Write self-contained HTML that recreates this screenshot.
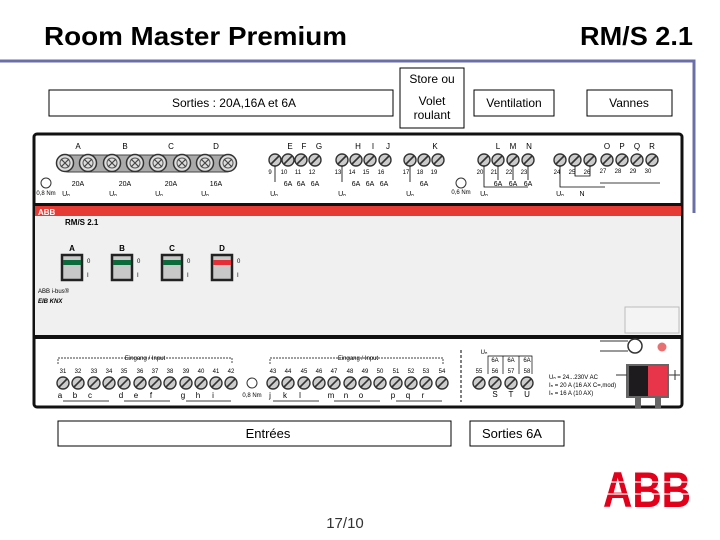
<!DOCTYPE html>
<html><head><meta charset="utf-8"><style>
html,body{margin:0;padding:0;background:#fff;}
svg{display:block;font-family:"Liberation Sans",sans-serif;}
</style></head><body>
<svg width="720" height="540" viewBox="0 0 720 540" xmlns="http://www.w3.org/2000/svg">
<defs>
<symbol id="s" viewBox="-7 -7 14 14" overflow="visible">
<circle r="6" fill="#ccc" stroke="#333" stroke-width="1.4"/>
<line x1="-4" y1="4" x2="4" y2="-4" stroke="#333" stroke-width="1.6"/>
</symbol>
<symbol id="b" viewBox="-10 -10 20 20" overflow="visible">
<circle r="8.5" fill="#ddd" stroke="#333" stroke-width="1.5"/>
<circle r="5" fill="none" stroke="#555" stroke-width="1"/>
<path d="M-4 -4L4 4M-4 4L4 -4" stroke="#444" stroke-width="1.2"/>
</symbol>
</defs>
<text x="44" y="45" font-size="26" font-weight="bold" fill="#000" textLength="303" lengthAdjust="spacingAndGlyphs">Room Master Premium</text>
<text x="580" y="45" font-size="26" font-weight="bold" fill="#000" textLength="113" lengthAdjust="spacingAndGlyphs">RM/S 2.1</text>
<polyline points="0,61 694,61 694,213" fill="none" stroke="#6b6fa8" stroke-width="3"/>

<g fill="#fff" stroke="#000" stroke-width="1">
<rect x="49" y="90" width="344" height="26"/>
<rect x="400" y="68" width="64" height="60"/>
<rect x="474" y="90" width="80" height="26"/>
<rect x="587" y="90" width="85" height="26"/>
</g>
<g font-size="12" text-anchor="middle" fill="#000">
<text x="234" y="107">Sorties : 20A,16A  et  6A</text>
<text x="432" y="83">Store ou</text>
<text x="432" y="105">Volet</text>
<text x="432" y="119">roulant</text>
<text x="514" y="107">Ventilation</text>
<text x="629" y="107">Vannes</text>
</g>

<rect x="34" y="134" width="648" height="273" fill="#fff" stroke="#111" stroke-width="3" rx="3"/>
<rect x="34" y="203" width="648" height="3" fill="#111"/>
<rect x="35" y="206" width="646" height="10" fill="#e63a35"/>
<text x="38" y="215" font-size="8" font-weight="bold" fill="#fff">ABB</text>
<rect x="35" y="216" width="646" height="119" fill="#f0f0f0"/>
<rect x="34" y="335" width="648" height="4" fill="#111"/>
<rect x="625" y="307" width="54" height="26" fill="#f4f4f4" stroke="#bbb"/>
<text x="65" y="225" font-size="8" font-weight="bold">RM/S 2.1</text>

<rect x="60" y="155" width="174" height="17" rx="8" fill="#aaa" stroke="#444"/>
<g>
<use href="#b" x="55" y="153" width="20" height="20"/><use href="#b" x="78" y="153" width="20" height="20"/><use href="#b" x="102" y="153" width="20" height="20"/><use href="#b" x="125" y="153" width="20" height="20"/>
<use href="#b" x="148" y="153" width="20" height="20"/><use href="#b" x="172" y="153" width="20" height="20"/><use href="#b" x="195" y="153" width="20" height="20"/><use href="#b" x="218" y="153" width="20" height="20"/>
</g>
<g font-size="8" text-anchor="middle">
<text x="78" y="149">A</text><text x="125" y="149">B</text><text x="171" y="149">C</text><text x="216" y="149">D</text>
<text x="290" y="149">E</text><text x="304" y="149">F</text><text x="319" y="149">G</text>
<text x="358" y="149">H</text><text x="373" y="149">I</text><text x="388" y="149">J</text>
<text x="435" y="149">K</text>
<text x="498" y="149">L</text><text x="513" y="149">M</text><text x="529" y="149">N</text>
<text x="607" y="149">O</text><text x="622" y="149">P</text><text x="637" y="149">Q</text><text x="652" y="149">R</text>
</g>
<g font-size="7" text-anchor="middle">
<text x="78" y="186">20A</text><text x="125" y="186">20A</text><text x="171" y="186">20A</text><text x="216" y="186">16A</text>
<text x="66" y="196">Uₙ</text><text x="113" y="196">Uₙ</text><text x="159" y="196">Uₙ</text><text x="205" y="196">Uₙ</text>
<text x="274" y="196">Uₙ</text><text x="342" y="196">Uₙ</text><text x="410" y="196">Uₙ</text><text x="484" y="196">Uₙ</text><text x="560" y="196">Uₙ</text>
<text x="582" y="196">N</text>
<text x="46" y="195" font-size="6">0,8 Nm</text><text x="461" y="194" font-size="6">0,6 Nm</text>
<text x="288" y="186">6A</text><text x="301" y="186">6A</text><text x="315" y="186">6A</text>
<text x="356" y="186">6A</text><text x="370" y="186">6A</text><text x="384" y="186">6A</text>
<text x="424" y="186">6A</text>
<text x="498" y="186">6A</text><text x="513" y="186">6A</text><text x="528" y="186">6A</text>
</g>
<circle cx="46" cy="183" r="5" fill="none" stroke="#333"/><circle cx="461" cy="183" r="5" fill="none" stroke="#333"/>
<g>
<use href="#s" x="268" y="153" width="14" height="14"/><use href="#s" x="281" y="153" width="14" height="14"/><use href="#s" x="294" y="153" width="14" height="14"/><use href="#s" x="308" y="153" width="14" height="14"/>
<use href="#s" x="335" y="153" width="14" height="14"/><use href="#s" x="349" y="153" width="14" height="14"/><use href="#s" x="363" y="153" width="14" height="14"/><use href="#s" x="378" y="153" width="14" height="14"/>
<use href="#s" x="403" y="153" width="14" height="14"/><use href="#s" x="417" y="153" width="14" height="14"/><use href="#s" x="431" y="153" width="14" height="14"/>
<use href="#s" x="477" y="153" width="14" height="14"/><use href="#s" x="491" y="153" width="14" height="14"/><use href="#s" x="506" y="153" width="14" height="14"/><use href="#s" x="521" y="153" width="14" height="14"/>
<use href="#s" x="553" y="153" width="14" height="14"/><use href="#s" x="568" y="153" width="14" height="14"/><use href="#s" x="583" y="153" width="14" height="14"/><use href="#s" x="600" y="153" width="14" height="14"/>
<use href="#s" x="615" y="153" width="14" height="14"/><use href="#s" x="630" y="153" width="14" height="14"/><use href="#s" x="645" y="153" width="14" height="14"/>
</g>
<g font-size="6" text-anchor="middle">
<text x="270" y="174">9</text><text x="284" y="174">10</text><text x="298" y="174">11</text><text x="312" y="174">12</text>
<text x="338" y="174">13</text><text x="352" y="174">14</text><text x="366" y="174">15</text><text x="381" y="174">16</text>
<text x="406" y="174">17</text><text x="420" y="174">18</text><text x="434" y="174">19</text>
<text x="480" y="174">20</text><text x="494" y="174">21</text><text x="509" y="174">22</text><text x="524" y="174">23</text>
<text x="557" y="174">24</text><text x="572" y="174">25</text><text x="587" y="174">26</text>
<text x="603" y="173">27</text><text x="618" y="173">28</text><text x="633" y="173">29</text><text x="648" y="173">30</text>
</g>
<g stroke="#000" stroke-width="0.8" fill="none">
<path d="M484 166V187H528M498 166V180M513 166V180M528 166V180"/>
<path d="M560 166V187H605M575 166V176H590V166"/>
<path d="M600 183H660"/>
<path d="M275 166V182M342 166V182M410 166V182"/>
</g>

<g font-size="8" text-anchor="middle" font-weight="bold">
<text x="72" y="251">A</text><text x="122" y="251">B</text><text x="172" y="251">C</text><text x="222" y="251">D</text>
</g>
<g stroke="#222" stroke-width="2.5" fill="#c8c8c8">
<rect x="62" y="255" width="20" height="25"/><rect x="112" y="255" width="20" height="25"/><rect x="162" y="255" width="20" height="25"/><rect x="212" y="255" width="20" height="25"/>
</g>
<rect x="63" y="260" width="18" height="5" fill="#0b6b3a"/><rect x="113" y="260" width="18" height="5" fill="#0b6b3a"/>
<rect x="163" y="260" width="18" height="5" fill="#0b6b3a"/><rect x="213" y="260" width="18" height="5" fill="#e62e36"/>
<g font-size="6"><text x="87" y="263">0</text><text x="137" y="263">0</text><text x="187" y="263">0</text><text x="237" y="263">0</text>
<text x="87" y="277">I</text><text x="137" y="277">I</text><text x="187" y="277">I</text><text x="237" y="277">I</text></g>
<text x="38" y="293" font-size="6">ABB i-bus®</text>
<text x="38" y="303" font-size="6" font-weight="bold" font-style="italic">EIB  KNX</text>

<g font-size="6" text-anchor="middle">
<text x="145" y="360">Eingang / Input</text><text x="358" y="360">Eingang / Input</text>
</g>
<path d="M58 364V358H232V364M270 364V358H443V364" fill="none" stroke="#000" stroke-width="0.7" stroke-dasharray="2,1"/>
<line x1="461" y1="350" x2="461" y2="402" stroke="#000" stroke-dasharray="3,2"/>
<g>
<use href="#s" x="56" y="376" width="14" height="14"/><use href="#s" x="71" y="376" width="14" height="14"/><use href="#s" x="87" y="376" width="14" height="14"/><use href="#s" x="102" y="376" width="14" height="14"/>
<use href="#s" x="117" y="376" width="14" height="14"/><use href="#s" x="133" y="376" width="14" height="14"/><use href="#s" x="148" y="376" width="14" height="14"/><use href="#s" x="163" y="376" width="14" height="14"/>
<use href="#s" x="179" y="376" width="14" height="14"/><use href="#s" x="194" y="376" width="14" height="14"/><use href="#s" x="209" y="376" width="14" height="14"/><use href="#s" x="224" y="376" width="14" height="14"/>
<use href="#s" x="266" y="376" width="14" height="14"/><use href="#s" x="281" y="376" width="14" height="14"/><use href="#s" x="297" y="376" width="14" height="14"/><use href="#s" x="312" y="376" width="14" height="14"/>
<use href="#s" x="327" y="376" width="14" height="14"/><use href="#s" x="343" y="376" width="14" height="14"/><use href="#s" x="358" y="376" width="14" height="14"/><use href="#s" x="373" y="376" width="14" height="14"/>
<use href="#s" x="389" y="376" width="14" height="14"/><use href="#s" x="404" y="376" width="14" height="14"/><use href="#s" x="419" y="376" width="14" height="14"/><use href="#s" x="435" y="376" width="14" height="14"/>
<use href="#s" x="472" y="376" width="14" height="14"/><use href="#s" x="488" y="376" width="14" height="14"/><use href="#s" x="504" y="376" width="14" height="14"/><use href="#s" x="520" y="376" width="14" height="14"/>
</g>
<circle cx="252" cy="383" r="5" fill="none" stroke="#333"/>
<g font-size="6" text-anchor="middle">
<text x="63" y="373">31</text><text x="78" y="373">32</text><text x="94" y="373">33</text><text x="109" y="373">34</text><text x="124" y="373">35</text><text x="140" y="373">36</text>
<text x="155" y="373">37</text><text x="170" y="373">38</text><text x="186" y="373">39</text><text x="201" y="373">40</text><text x="216" y="373">41</text><text x="231" y="373">42</text>
<text x="273" y="373">43</text><text x="288" y="373">44</text><text x="304" y="373">45</text><text x="319" y="373">46</text><text x="334" y="373">47</text><text x="350" y="373">48</text>
<text x="365" y="373">49</text><text x="380" y="373">50</text><text x="396" y="373">51</text><text x="411" y="373">52</text><text x="426" y="373">53</text><text x="442" y="373">54</text>
<text x="479" y="373">55</text><text x="495" y="373">56</text><text x="511" y="373">57</text><text x="527" y="373">58</text>
<text x="252" y="397">0,8 Nm</text>
<text x="484" y="354">Uₙ</text><text x="495" y="362">6A</text><text x="511" y="362">6A</text><text x="527" y="362">6A</text>
</g>
<g font-size="8" text-anchor="middle">
<text x="60" y="398">a</text><text x="75" y="398">b</text><text x="90" y="398">c</text><text x="121" y="398">d</text><text x="136" y="398">e</text><text x="151" y="398">f</text>
<text x="183" y="398">g</text><text x="198" y="398">h</text><text x="213" y="398">i</text>
<text x="270" y="398">j</text><text x="285" y="398">k</text><text x="300" y="398">l</text><text x="331" y="398">m</text><text x="346" y="398">n</text><text x="361" y="398">o</text>
<text x="393" y="398">p</text><text x="408" y="398">q</text><text x="423" y="398">r</text>
<text x="495" y="397">S</text><text x="511" y="397">T</text><text x="527" y="397">U</text>
</g>
<g stroke="#000" stroke-width="0.7" fill="none">
<path d="M63 401H109M124 401H170M186 401H231M273 401H319M334 401H380M396 401H442"/>
<path d="M488 374V356H532V374M503 356V374M519 356V374"/>
</g>
<g font-size="6"><text x="549" y="379">Uₙ = 24...230V AC</text><text x="549" y="387">Iₙ = 20 A (16 AX C=,mod)</text><text x="549" y="395">Iₙ = 16 A (10 AX)</text></g>
<path d="M600 341H628M600 351H628" stroke="#333" fill="none"/>
<ellipse cx="635" cy="346" rx="7" ry="7" fill="#fff" stroke="#333" stroke-width="1.5"/>
<circle cx="662" cy="347" r="4.5" fill="#e87070"/>
<rect x="626" y="364" width="43" height="34" fill="#666"/>
<rect x="629" y="366" width="19" height="30" fill="#1e1b1f"/>
<rect x="648" y="366" width="19" height="30" fill="#e8354a"/>
<rect x="635" y="398" width="6" height="10" fill="#666"/><rect x="655" y="398" width="6" height="10" fill="#666"/>
<path d="M616 375H627M669 375H680M675 370V380" stroke="#333" fill="none"/>

<rect x="58" y="421" width="393" height="25" fill="#fff" stroke="#000"/>
<rect x="470" y="421" width="94" height="25" fill="#fff" stroke="#000"/>
<text x="268" y="438" font-size="13" text-anchor="middle">Entrées</text>
<text x="512" y="438" font-size="13" text-anchor="middle">Sorties 6A</text>
<text x="345" y="528" font-size="15" text-anchor="middle" fill="#333">17/10</text>
<text x="647" y="507" font-size="50" font-weight="bold" fill="#e2001a" text-anchor="middle" textLength="88" lengthAdjust="spacingAndGlyphs">ABB</text>
<g stroke="#fff" stroke-width="1.3"><line x1="600" y1="482" x2="700" y2="482"/><line x1="600" y1="494" x2="700" y2="494"/></g>
</svg>
</body></html>
